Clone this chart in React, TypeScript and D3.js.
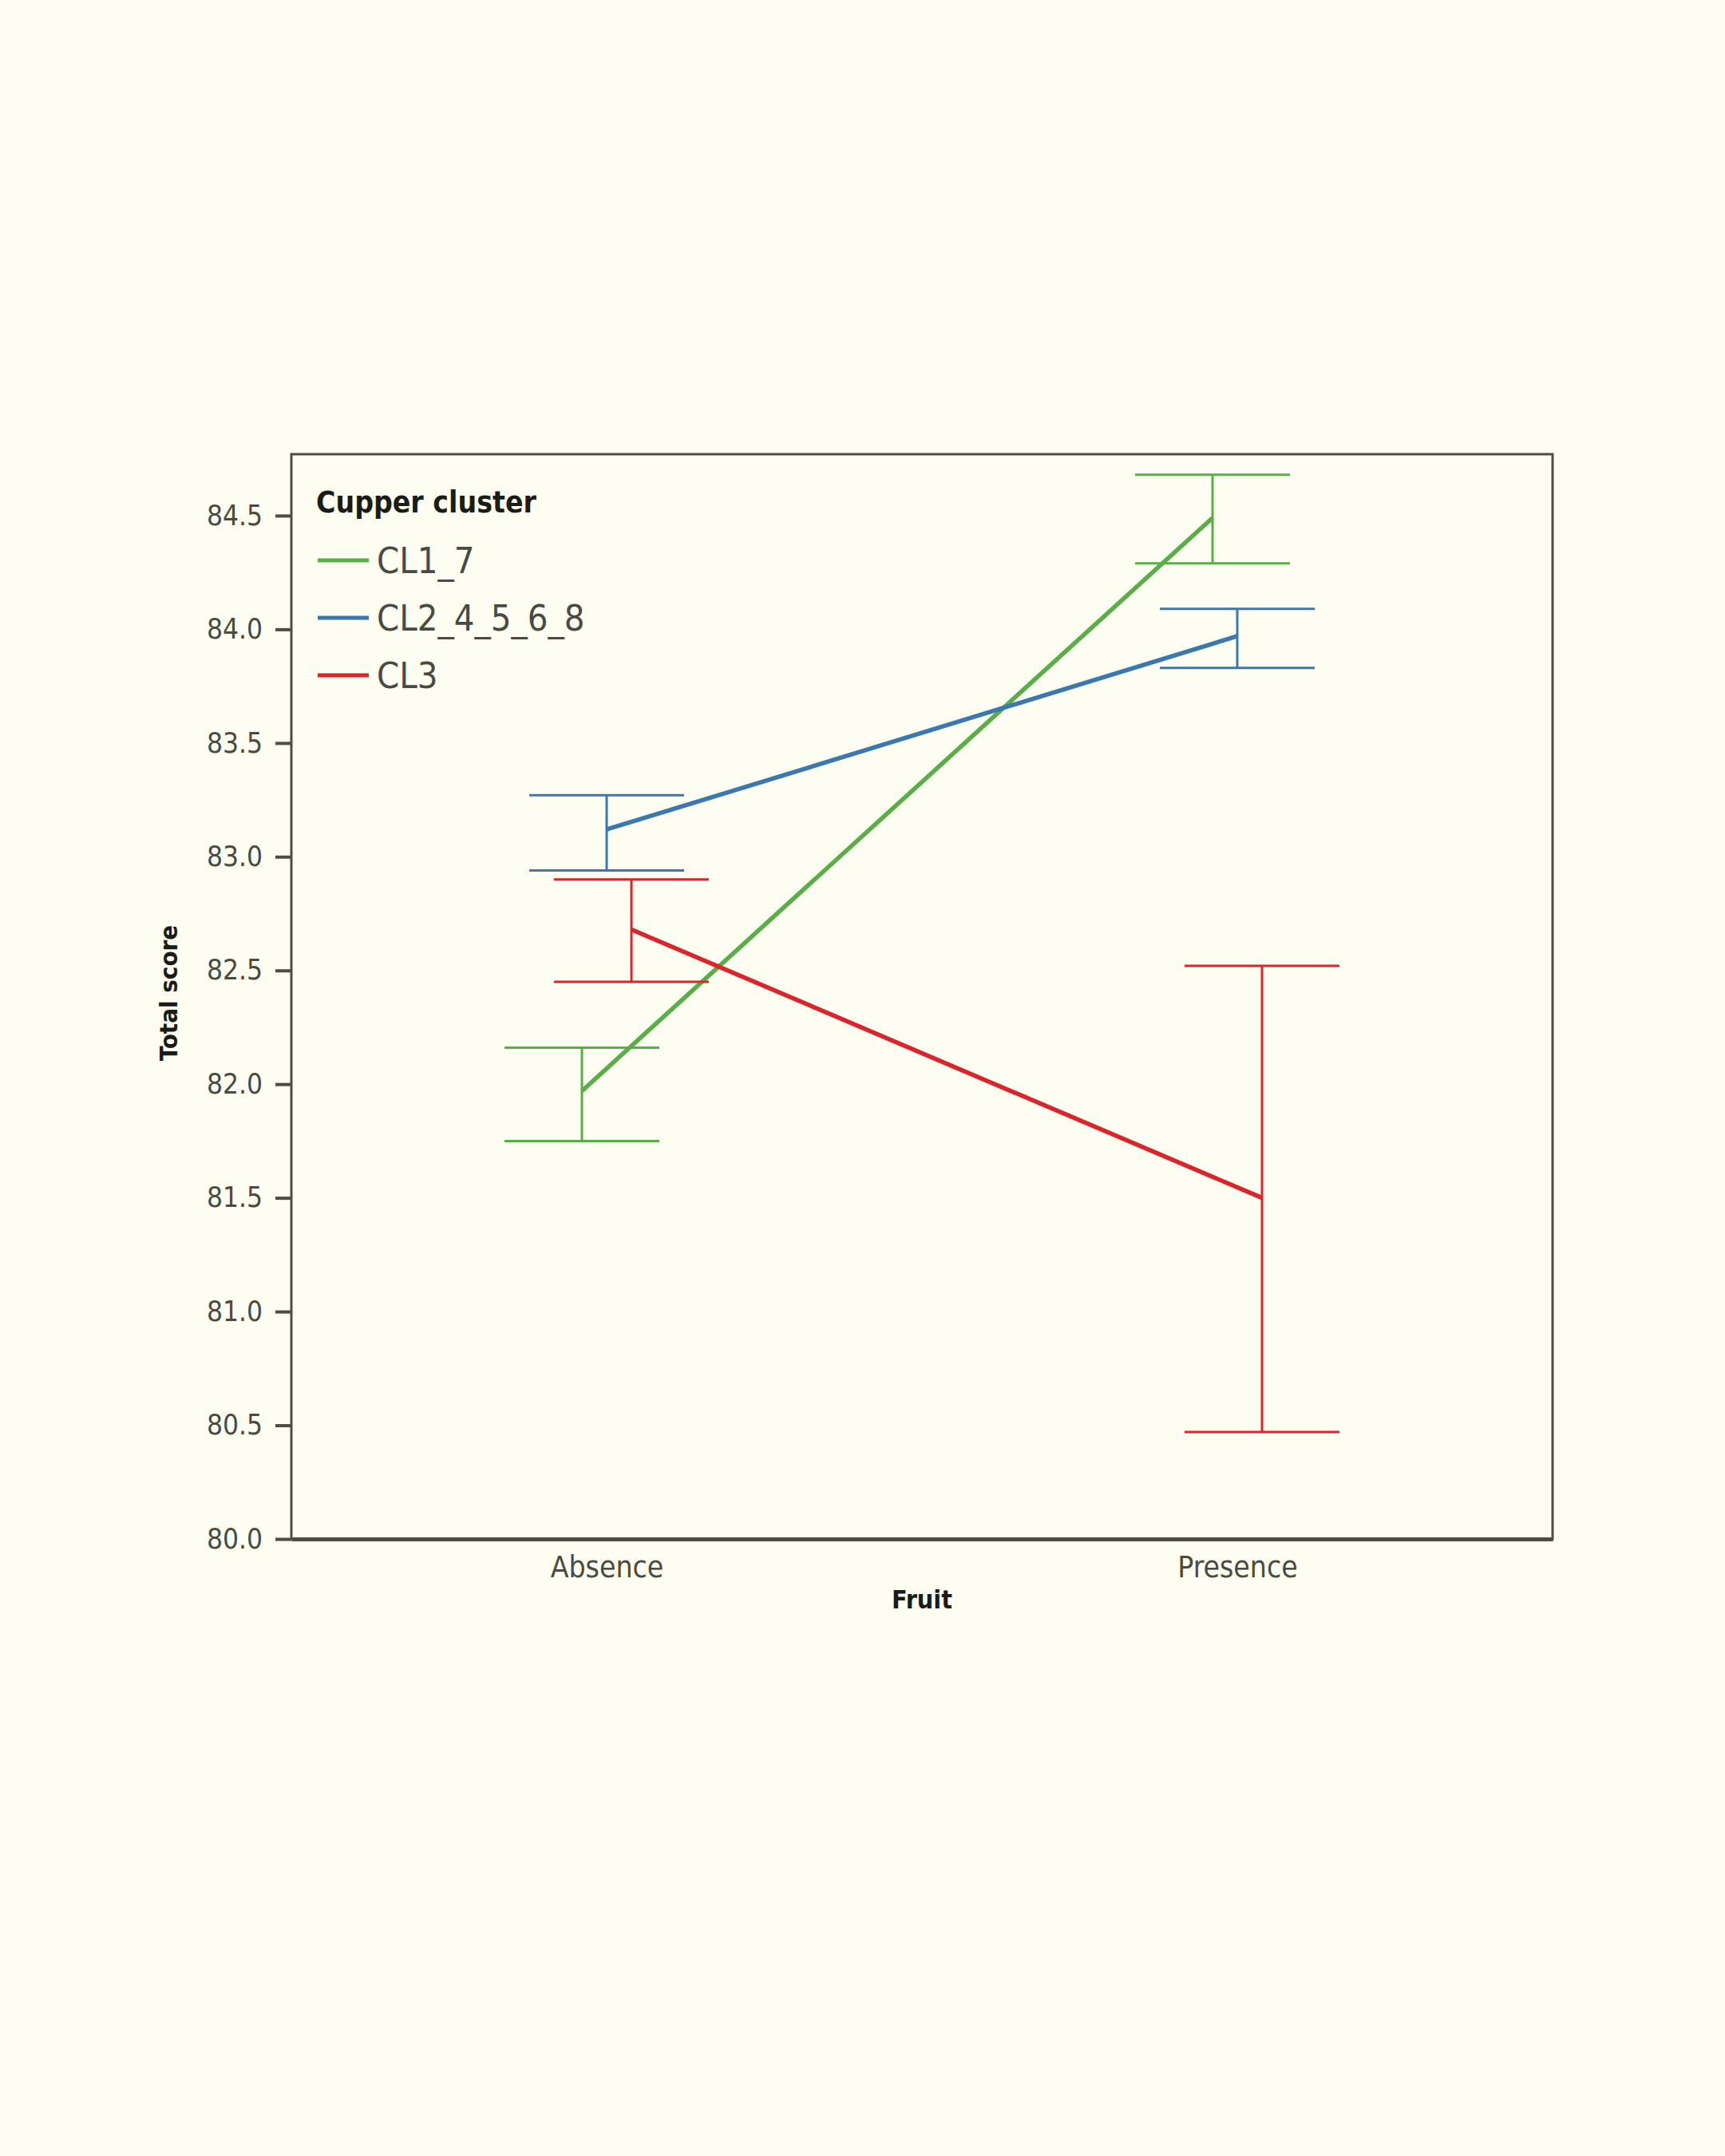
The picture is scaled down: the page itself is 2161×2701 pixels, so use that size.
import { useEffect, useRef } from 'react';
import * as d3 from 'd3';

const FRUIT = ['Absence', 'Presence'];
const CLUSTERS = ['CL1_7', 'CL2_4_5_6_8', 'CL3'];
const COLORS = ['#5aae48', '#3b78ae', '#d9252b'];

// mean, lower, upper per fruit level (Absence, Presence)
const CL1_7_MEAN = [81.97, 84.49];
const CL1_7_LOW = [81.75, 84.29];
const CL1_7_HIGH = [82.16, 84.68];

const CL2_MEAN = [83.12, 83.97];
const CL2_LOW = [82.94, 83.83];
const CL2_HIGH = [83.27, 84.09];

const CL3_MEAN = [82.68, 81.5];
const CL3_LOW = [82.45, 80.47];
const CL3_HIGH = [82.9, 82.52];

const Y_TICKS = [80.0, 80.5, 81.0, 81.5, 82.0, 82.5, 83.0, 83.5, 84.0, 84.5];

const FONT = '"DejaVu Sans Condensed", "Liberation Sans Narrow", "DejaVu Sans", sans-serif';

export default function App() {
  const svgRef = useRef<SVGSVGElement>(null);

  useEffect(() => {
    if (!svgRef.current) return;
    const svg = d3.select(svgRef.current);
    svg.selectAll('*').remove();

    const W = 2161, H = 2701;
    const M = { left: 365, right: 216, top: 569, bottom: 773 };
    const innerW = W - M.left - M.right;
    const innerH = H - M.top - M.bottom;
    const axisCol = '#4f4d40';

    svg.append('rect').attr('width', W).attr('height', H).attr('fill', '#fefdf1');

    const x = d3.scalePoint<string>().domain(FRUIT).range([0, innerW]).padding(0.5);
    const y = d3.scaleLinear().domain([80, 84.77]).range([innerH, 0]);
    const dodge = d3.scalePoint<string>().domain(CLUSTERS).range([-31, 31]);

    const g = svg.append('g').attr('transform', `translate(${M.left},${M.top})`);

    // frame
    g.append('rect')
      .attr('x', 0).attr('y', 0).attr('width', innerW).attr('height', innerH)
      .attr('fill', 'none').attr('stroke', axisCol).attr('stroke-width', 3);

    // y axis
    const yAxis = d3.axisLeft(y).tickValues(Y_TICKS).tickFormat(d3.format('.1f')).tickSize(20).tickPadding(16);
    const ya = g.append('g').call(yAxis);
    ya.select('.domain').remove();
    ya.selectAll('line').attr('stroke', axisCol).attr('stroke-width', 4);
    ya.selectAll('text').attr('font-size', 35).attr('font-family', FONT).attr('fill', '#4a4a40');

    // x axis
    const xAxis = d3.axisBottom(x).tickSize(0).tickPadding(22);
    const xa = g.append('g').attr('transform', `translate(0,${innerH})`).call(xAxis);
    xa.select('.domain').attr('stroke', axisCol).attr('stroke-width', 5);
    xa.selectAll('text').attr('font-size', 37).attr('font-family', FONT).attr('fill', '#4a4a40');

    // axis titles
    svg.append('text')
      .attr('x', M.left + innerW / 2).attr('y', 2015)
      .attr('text-anchor', 'middle').attr('font-size', 32).attr('font-weight', 'bold')
      .attr('font-family', FONT).attr('fill', '#1c1c16')
      .text('Fruit');
    svg.append('text')
      .attr('transform', `translate(222,1244) rotate(-90)`)
      .attr('text-anchor', 'middle').attr('font-size', 31).attr('font-weight', 'bold')
      .attr('font-family', FONT).attr('fill', '#1c1c16')
      .text('Total score');

    const series = [
      { name: CLUSTERS[0], mean: CL1_7_MEAN, low: CL1_7_LOW, high: CL1_7_HIGH, color: COLORS[0] },
      { name: CLUSTERS[1], mean: CL2_MEAN, low: CL2_LOW, high: CL2_HIGH, color: COLORS[1] },
      { name: CLUSTERS[2], mean: CL3_MEAN, low: CL3_LOW, high: CL3_HIGH, color: COLORS[2] },
    ];

    const cap = 97;

    series.forEach((s) => {
      const px = (i: number) => (x(FRUIT[i]) ?? 0) + (dodge(s.name) ?? 0);

      // error bars
      FRUIT.forEach((_, i) => {
        const cx = px(i);
        const eb = g.append('g').attr('stroke', s.color).attr('stroke-width', 3).attr('fill', 'none');
        eb.append('line').attr('x1', cx).attr('x2', cx).attr('y1', y(s.low[i])).attr('y2', y(s.high[i]));
        eb.append('line').attr('x1', cx - cap).attr('x2', cx + cap).attr('y1', y(s.low[i])).attr('y2', y(s.low[i]));
        eb.append('line').attr('x1', cx - cap).attr('x2', cx + cap).attr('y1', y(s.high[i])).attr('y2', y(s.high[i]));
      });

      const line = d3.line<number>().x((_, i) => px(i)).y((d) => y(d));
      g.append('path')
        .datum(s.mean)
        .attr('d', line)
        .attr('fill', 'none')
        .attr('stroke', s.color)
        .attr('stroke-width', 5.5);
    });

    // legend
    const lg = svg.append('g').attr('transform', 'translate(396,0)');
    lg.append('text')
      .attr('x', 0).attr('y', 642)
      .attr('font-size', 37).attr('font-weight', 'bold')
      .attr('font-family', FONT).attr('fill', '#1c1c16')
      .text('Cupper cluster');
    const rowY = [702, 774, 846];
    series.forEach((s, i) => {
      lg.append('line')
        .attr('x1', 2).attr('x2', 66).attr('y1', rowY[i]).attr('y2', rowY[i])
        .attr('stroke', s.color).attr('stroke-width', 5);
      lg.append('text')
        .attr('x', 76).attr('y', rowY[i] + 16)
        .attr('font-size', 45)
        .attr('font-family', FONT).attr('fill', '#4a4a40')
        .text(s.name);
    });
  }, []);

  return (
    <svg
      ref={svgRef}
      width={2161}
      height={2701}
      viewBox="0 0 2161 2701"
      style={{ position: 'absolute', left: 0, top: 0, display: 'block' }}
    />
  );
}
